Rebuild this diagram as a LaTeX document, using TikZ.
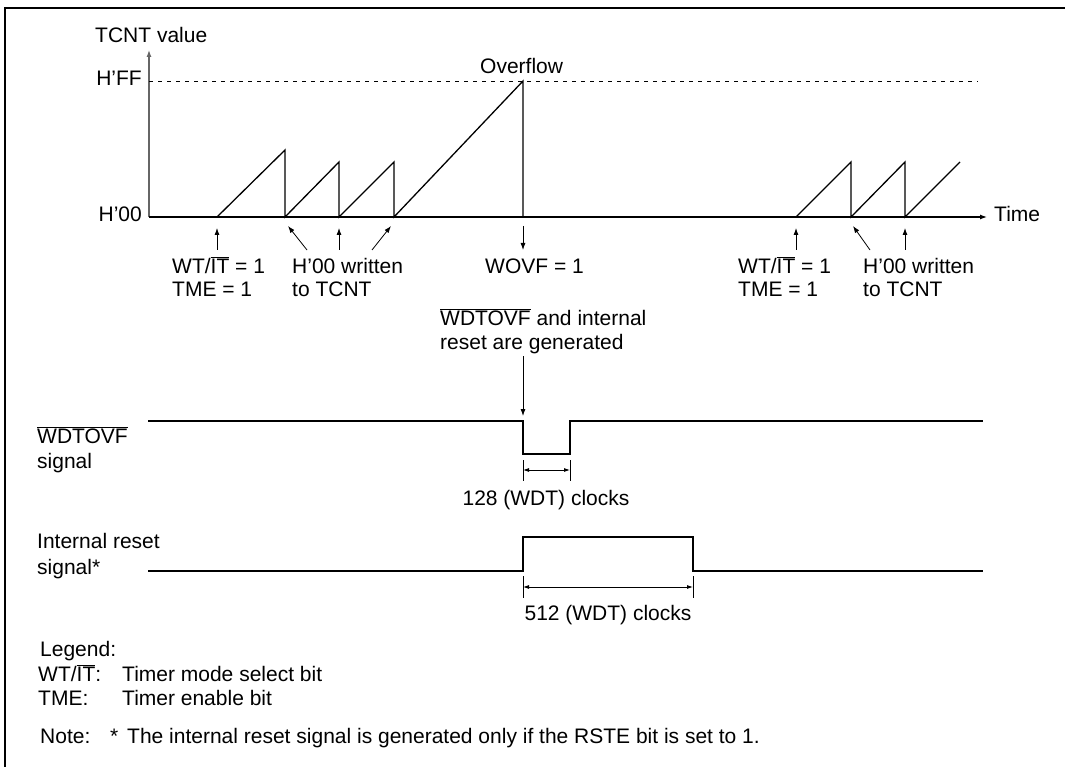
\documentclass[tikz,border=0pt]{standalone}
\usepackage{fontspec}
\setmainfont{Liberation Sans}
\usetikzlibrary{arrows.meta}
\newcommand\ovl[1]{$\overline{\mbox{#1}}$}
\begin{document}
\begin{tikzpicture}[x=1pt,y=-1pt,
  every node/.style={font=\fontsize{21}{25}\selectfont, inner sep=0pt},
  lbl/.style={anchor=base west},
  arr/.style={-{Latex[length=7pt,width=5pt]}, line width=0.8pt},
  dim/.style={{Latex[length=6pt,width=4pt]}-{Latex[length=6pt,width=4pt]}, line width=0.8pt},
  thin/.style={line width=0.8pt},
  wave/.style={line width=1.3pt, line join=miter}]
\useasboundingbox (0,0) rectangle (1065,767);
\draw[line width=2pt] (5,767) -- (5,8) -- (1065,8);

% axes
\coordinate (O) at (149,217);
\coordinate (Ytop) at (149,50);
\coordinate (Xend) at (987,217);
\coordinate (FFl) at (149,81);
\coordinate (FFr) at (978,81);
\draw[arr, line width=1.2pt, black!60] (O) -- (Ytop);
\draw[arr, line width=1.2pt] (O) -- (Xend);
\draw[thin, dash pattern=on 4pt off 5pt] (FFl) -- (FFr);

\node[anchor=base west] (tcnt) at (95,43) {TCNT value};
\node[anchor=base east] (hff) at (142,86) {H'FF};
\node[anchor=base east] (h00) at (142,222) {H'00};
\node[anchor=base west] (time) at (994,222) {Time};
\node[anchor=base west] (ovf) at (480,74) {Overflow};

% sawtooth
\draw[wave] (217,217) -- (285,150) -- (285,217) -- (339,162) -- (339,217)
  -- (394,162) -- (394,217) -- (523,81) -- (523,217);
\draw[wave] (796,217) -- (851,162) -- (851,217) -- (905,162) -- (905,217) -- (960,162);

% event labels
\node[lbl] (wt1) at (172,273) {WT/\ovl{IT} = 1};
\node[lbl] (tme1) at (172,297) {TME = 1};
\node[lbl] (hw1) at (292,273) {H'00 written};
\node[lbl] (tt1) at (292,297) {to TCNT};
\node[lbl] (wovf) at (485,273) {WOVF = 1};
\node[lbl] (wt2) at (738,273) {WT/\ovl{IT} = 1};
\node[lbl] (tme2) at (738,297) {TME = 1};
\node[lbl] (hw2) at (863,273) {H'00 written};
\node[lbl] (tt2) at (863,297) {to TCNT};

\coordinate (a1s) at (217,250); \coordinate (a1e) at (217,228);
\coordinate (a2s) at (307,250); \coordinate (a2e) at (288,226);
\coordinate (a3s) at (339,250); \coordinate (a3e) at (339,228);
\coordinate (a4s) at (372,250); \coordinate (a4e) at (391,226);
\coordinate (a5s) at (523,226); \coordinate (a5e) at (523,250);
\coordinate (b1s) at (796,250); \coordinate (b1e) at (796,228);
\coordinate (b2s) at (870,250); \coordinate (b2e) at (853,226);
\coordinate (b3s) at (905,250); \coordinate (b3e) at (905,228);
\foreach \p in {a1,a2,a3,a4,a5,b1,b2,b3} \draw[arr] (\p s) -- (\p e);

\node[lbl] (gen1) at (440,325) {\ovl{WDTOVF} and internal};
\node[lbl] (gen2) at (440,349) {reset are generated};
\coordinate (g1) at (523,356); \coordinate (g2) at (523,416);
\draw[arr] (g1) -- (g2);

% WDTOVF signal
\node[lbl] (sw1) at (37,443) {\ovl{WDTOVF}};
\node[lbl] (sw2) at (37,468) {signal};
\draw[wave] (148,421) -- (523,421) -- (523,454) -- (570,454) -- (570,421) -- (983,421);
\draw[thin] (523,460) -- (523,481) (570,460) -- (570,481);
\coordinate (d1a) at (523,470); \coordinate (d1b) at (570,470);
\draw[dim] (d1a) -- (d1b);
\node[anchor=base] (c128) at (546,505) {128 (WDT) clocks};

% internal reset
\node[lbl] (sr1) at (37,548) {Internal reset};
\node[lbl] (sr2) at (37,574) {signal*};
\draw[wave] (148,571) -- (523,571) -- (523,537) -- (693,537) -- (693,571) -- (983,571);
\draw[thin] (523,576) -- (523,598) (693,576) -- (693,598);
\coordinate (d2a) at (523,587); \coordinate (d2b) at (693,587);
\draw[dim] (d2a) -- (d2b);
\node[anchor=base] (c512) at (608,620) {512 (WDT) clocks};

% legend
\node[lbl] (leg) at (40,656) {Legend:};
\node[lbl] (lw) at (38,681) {WT/\ovl{IT}:};
\node[lbl] (lwt) at (122,681) {Timer mode select bit};
\node[lbl] (lt) at (38,705) {TME:};
\node[lbl] (ltt) at (122,705) {Timer enable bit};
\node[lbl] (note) at (40,743) {Note:};
\node[lbl] (ast) at (110,743) {*};
\node[lbl] (notet) at (127,743) {The internal reset signal is generated only if the RSTE bit is set to 1.};
\end{tikzpicture}
\end{document}
